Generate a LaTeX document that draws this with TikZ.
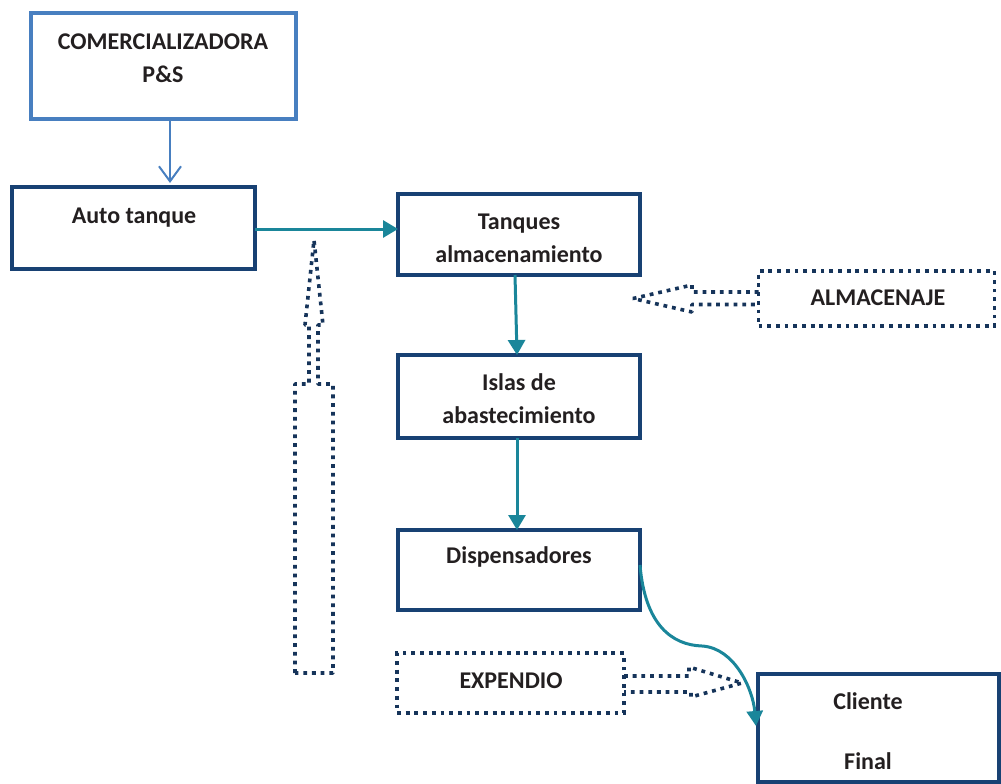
\documentclass[tikz,border=0pt]{standalone}
\usepackage{fontspec}
\setmainfont{Carlito}
\usetikzlibrary{arrows.meta,calc}
\definecolor{navy}{RGB}{24,65,115}
\definecolor{lblue}{RGB}{72,127,192}
\definecolor{tealarrow}{RGB}{26,134,154}
\definecolor{dotnavy}{RGB}{22,52,90}
\definecolor{txtgray}{RGB}{35,31,32}
\begin{document}
\begin{tikzpicture}[x=1pt,y=-1pt,
  boxbase/.style={rectangle,inner sep=0pt,outer sep=0pt},
  navybox/.style={boxbase,draw=navy,line width=4.5pt},
  lightbox/.style={boxbase,draw=lblue,line width=4pt},
  dotbox/.style={boxbase,draw=dotnavy,line width=3.6pt,dash pattern=on 3.8pt off 4.9pt},
  dotshape/.style={draw=dotnavy,line width=3.6pt,dash pattern=on 3.8pt off 4.9pt,line join=bevel},
  txt/.style={inner sep=0pt,anchor=base,align=center,text=txtgray,
    font=\fontsize{24}{33}\selectfont\bfseries},
  tealflow/.style={draw=tealarrow,line width=3pt,-{Triangle[length=15pt,width=17pt]}},
  blueflow/.style={draw=lblue,line width=2pt,-{Straight Barb[length=15pt,width=22pt,line width=2pt]}}]
\useasboundingbox (0,0) rectangle (1001,784);

% boxes
\node[lightbox,minimum width=265pt,minimum height=105pt] (comm) at (163.5,66) {};
\node[navybox,minimum width=243pt,minimum height=82pt] (auto) at (133.5,228) {};
\node[navybox,minimum width=242pt,minimum height=81pt] (tanq) at (519,234.5) {};
\node[navybox,minimum width=242pt,minimum height=83pt] (islas) at (519,396.5) {};
\node[navybox,minimum width=242pt,minimum height=80pt] (disp) at (519,570) {};
\node[navybox,minimum width=241pt,minimum height=108pt] (cli) at (878.5,728) {};
\node[dotbox,minimum width=236pt,minimum height=55pt] (alm) at (876.5,298.5) {};
\node[dotbox,minimum width=227pt,minimum height=60pt] (exp) at (510.5,683) {};

% texts (base = baseline of the last line)
\node[txt] (tcomm) at (163,82) {COMERCIALIZADORA\\P\&S};
\node[txt] (tauto) at (134,223) {Auto tanque};
\node[txt] (ttanq) at (519,262) {Tanques\\almacenamiento};
\node[txt] (tislas) at (519,423) {Islas de\\abastecimiento};
\node[txt] (tdisp) at (519,563) {Dispensadores};
\node[txt] (tcli1) at (868,709) {Cliente};
\node[txt] (tcli2) at (868,769) {Final};
\node[txt] (talm) at (878,305) {ALMACENAJE};
\node[txt] (texp) at (511,688) {EXPENDIO};

% connectors
\draw[blueflow] ([xshift=6.5pt]comm.south) -- ([xshift=6.5pt,yshift=4pt]comm.south |- auto.north);
\draw[tealflow] ([yshift=-1pt]auto.east) -- ([yshift=-1pt]auto.east -| tanq.west);
\draw[tealflow] ([xshift=-4pt]tanq.south) -- ([xshift=-2pt]islas.north);
\draw[tealflow] ([xshift=-2pt]islas.south) -- ([xshift=-2pt]disp.north);
\draw[draw=tealarrow,line width=3pt,-{Triangle[length=15pt,width=16pt]}]
  ([yshift=5pt]disp.east) .. controls (645,625) and (672,645) .. (702,646)
  .. controls (735,648) and (753,690) .. ([xshift=-2pt,yshift=2pt]cli.west);

% dotted block arrows
\draw[dotshape] ($(alm.west)+(0,-6.5)$) -- (692,292) -- (692,285) -- (633,298.5)
  -- (692,312) -- (692,304.5) -- ($(alm.west)+(0,6)$);
\draw[dotshape] ($(exp.east)+(0,-7)$) -- (689,676) -- (689,667) -- (742,683)
  -- (691,697) -- (691,692) -- ($(exp.east)+(0,9)$);
\draw[dotshape] (295,673) -- (295,384) -- (309,384) -- (309,325) -- (305,325)
  -- (314,240) -- (323,325) -- (318,325) -- (318,384) -- (333,384) -- (333,673) -- cycle;
\end{tikzpicture}
\end{document}
